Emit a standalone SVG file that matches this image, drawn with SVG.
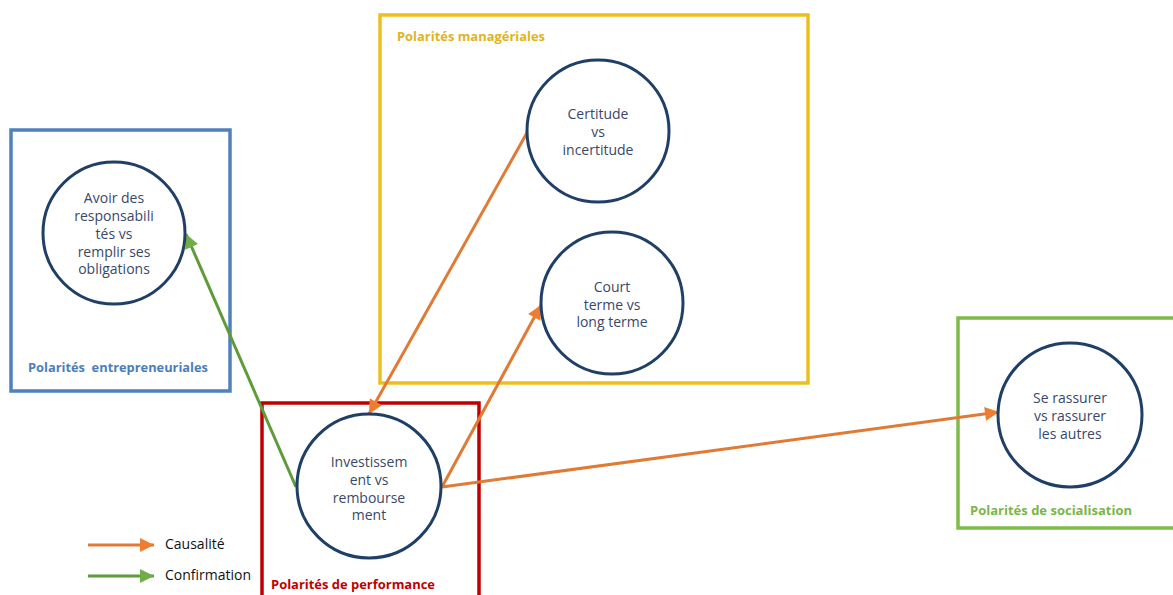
<svg xmlns="http://www.w3.org/2000/svg" width="1173" height="595" viewBox="0 0 1173 595">
<style>
.node{fill:#fff;stroke:#1F3F66;stroke-width:3}
.nt{font-family:"Open Sans","Liberation Sans",Arial,sans-serif;font-size:14px;fill:#3A4868;text-anchor:middle}
.lbl{font-family:"Open Sans","Liberation Sans",Arial,sans-serif;font-size:11.5px;font-weight:bold;white-space:pre}
.leg{font-family:"Open Sans","Liberation Sans",Arial,sans-serif;font-size:14px;fill:#111}
.box{fill:none;stroke-width:3.5}
.orange{stroke:#E07B35;stroke-width:3;fill:none}
.green{stroke:#5E9B3A;stroke-width:3;fill:none}
</style>
<defs>
<marker id="ao" viewBox="0 0 10 10" refX="10" refY="5" markerWidth="18" markerHeight="14" markerUnits="userSpaceOnUse" orient="auto"><path d="M0,0 L10,5 L0,10 z" fill="#ED7D31"/></marker>
<marker id="ag" viewBox="0 0 10 10" refX="10" refY="5" markerWidth="18" markerHeight="14" markerUnits="userSpaceOnUse" orient="auto"><path d="M0,0 L10,5 L0,10 z" fill="#70AD47"/></marker>
</defs>
<rect width="1173" height="595" fill="#fff"/>

<g id="group-entrepreneuriales">
<rect class="box" x="11" y="130" width="219" height="261" stroke="#4F81BD"/>
<text class="lbl" x="28" y="372" fill="#4A7EBB" textLength="180" lengthAdjust="spacingAndGlyphs">Polarités  entrepreneuriales</text>
</g>
<g id="group-manageriales">
<rect class="box" x="380" y="15" width="428" height="368" stroke="#EDBE1E"/>
<text class="lbl" x="397" y="41" fill="#E0B420" textLength="148" lengthAdjust="spacingAndGlyphs">Polarités managériales</text>
</g>
<g id="group-performance">
<rect class="box" x="262" y="403" width="217" height="200" stroke="#C00000"/>
<text class="lbl" x="271" y="589" fill="#C00000" style="font-size:12.5px" textLength="164" lengthAdjust="spacingAndGlyphs">Polarités de performance</text>
</g>
<g id="group-socialisation">
<rect class="box" x="958" y="318" width="230" height="210" stroke="#7DBB4A"/>
<text class="lbl" x="970" y="515" fill="#7AB648" textLength="162" lengthAdjust="spacingAndGlyphs">Polarités de socialisation</text>
</g>

<g id="connectors">
<line class="green" x1="296" y1="487" x2="186" y2="234" marker-end="url(#ag)"/>
<line class="orange" x1="528" y1="131" x2="369" y2="414" marker-end="url(#ao)"/>
<line class="orange" x1="442" y1="487" x2="541" y2="305" marker-end="url(#ao)"/>
<line class="orange" x1="442" y1="487" x2="999" y2="412" marker-end="url(#ao)"/>
<line class="orange" x1="88" y1="545" x2="154" y2="545" marker-end="url(#ao)"/>
<line class="green" x1="88" y1="576" x2="154" y2="576" marker-end="url(#ag)"/>
</g>

<g id="legend">
<text class="leg" x="165" y="549">Causalité</text>
<text class="leg" x="165" y="580">Confirmation</text>
</g>

<g id="node-avoir">
<circle class="node" cx="114" cy="233" r="71"/>
<text class="nt" x="114" y="203">Avoir des</text>
<text class="nt" x="114" y="221">responsabili</text>
<text class="nt" x="114" y="239">tés vs</text>
<text class="nt" x="114" y="257">remplir ses</text>
<text class="nt" x="114" y="274">obligations</text>
</g>
<g id="node-certitude">
<circle class="node" cx="598" cy="131" r="71"/>
<text class="nt" x="598" y="119">Certitude</text>
<text class="nt" x="598" y="137">vs</text>
<text class="nt" x="598" y="155">incertitude</text>
</g>
<g id="node-court">
<circle class="node" cx="612" cy="303" r="71"/>
<text class="nt" x="612" y="292">Court</text>
<text class="nt" x="612" y="310">terme vs</text>
<text class="nt" x="612" y="327">long terme</text>
</g>
<g id="node-investissement">
<circle class="node" cx="369" cy="486" r="72"/>
<text class="nt" x="369" y="467">Investissem</text>
<text class="nt" x="369" y="485">ent vs</text>
<text class="nt" x="369" y="503">rembourse</text>
<text class="nt" x="369" y="520">ment</text>
</g>
<g id="node-rassurer">
<circle class="node" cx="1070" cy="415" r="72"/>
<text class="nt" x="1070" y="403">Se rassurer</text>
<text class="nt" x="1070" y="421">vs rassurer</text>
<text class="nt" x="1070" y="439">les autres</text>
</g>
</svg>
